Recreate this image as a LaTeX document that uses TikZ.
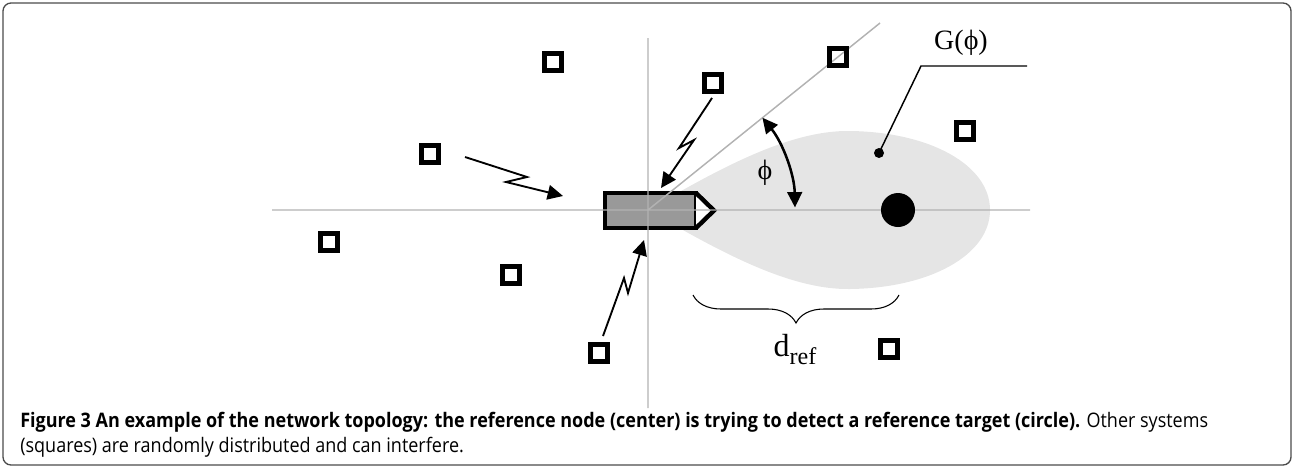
\documentclass[tikz,border=0pt]{standalone}
\usepackage{fontspec}
\setmainfont{Liberation Serif}
\newfontfamily\capfont[FakeStretch=0.9]{Open Sans}
\usetikzlibrary{arrows.meta,decorations.pathreplacing}

\tikzset{
  sys/.style={shape=rectangle,draw,line width=3.75pt,minimum size=13.2pt,inner sep=0pt},
  axis/.style={draw=black!30,line width=1.1pt},
  bolt/.style={draw,line width=1.4pt,line join=miter,-{Triangle[length=11.5pt,width=11pt]}},
  lbl/.style={font=\fontsize{21}{24}\selectfont,inner sep=0pt},
  capline/.style={anchor=base west,inner sep=0pt,font=\capfont\fontsize{15}{18}\selectfont},
}

\begin{document}
\begin{tikzpicture}[x=0.75pt,y=-0.75pt]
\useasboundingbox (0,0) rectangle (1294,468);
\draw[black!70,line width=1pt,rounded corners=6pt] (3,3) rectangle (1291,465);

% antenna pattern
\fill[black!10] (648,210) .. controls (720,168) and (790,130) .. (850,131)
  .. controls (930,132) and (990,165) .. (990,210)
  .. controls (990,255) and (930,288) .. (850,289)
  .. controls (790,290) and (720,252) .. (648,210) -- cycle;

% reference node
\node(refnode) at (650.5,210.5)[shape=rectangle,draw,fill=black!40,line width=3.3pt,outer sep=0pt,
  minimum width=68.25pt,minimum height=26.25pt]{};
\coordinate(nose) at (714,210.5);
\draw[line width=3.3pt,line join=miter,fill=white] (refnode.north east) -- (nose) -- (refnode.south east);

% axes
\coordinate(orig) at (648,210);
\coordinate(xleft) at (272,210);
\coordinate(xright) at (1030,210);
\coordinate(ytop) at (648,38);
\coordinate(ybot) at (648,408);
\coordinate(diag) at (880,23);
\path[axis] (xleft) -- (xright) (ytop) -- (ybot) (orig) -- (diag);

% target and pattern label
\node(target) at (898,210)[shape=circle,fill,minimum size=25.5pt,inner sep=0pt]{};
\node(gdot) at (879,153)[shape=circle,fill,minimum size=7.5pt,inner sep=0pt]{};
\coordinate(gbend) at (921,66);
\coordinate(gend) at (1027,66);
\draw[line width=1.1pt] (gdot.center) -- (gbend) -- (gend);
\node(glabel) at (961,43)[lbl]{G(ϕ)};

% other systems
\node(s1) at (553,62)[sys]{};
\node(s2) at (713,83)[sys]{};
\node(s3) at (838,57)[sys]{};
\node(s4) at (430,154)[sys]{};
\node(s5) at (965,131)[sys]{};
\node(s6) at (329,242)[sys]{};
\node(s7) at (511,275)[sys]{};
\node(s8) at (599,353)[sys]{};
\node(s9) at (889,349)[sys]{};

% interference
\coordinate(a0) at (465,157); \coordinate(a1) at (527,177); \coordinate(a2) at (506,182); \coordinate(a3) at (563,196);
\coordinate(b0) at (712,98);  \coordinate(b1) at (679,148); \coordinate(b2) at (694,140); \coordinate(b3) at (661,188);
\coordinate(c0) at (603,336); \coordinate(c1) at (624,278); \coordinate(c2) at (628,293); \coordinate(c3) at (644,240);
\draw[bolt] (a0) -- (a1) -- (a2) -- (a3);
\draw[bolt] (b0) -- (b1) -- (b2) -- (b3);
\draw[bolt] (c0) -- (c1) -- (c2) -- (c3);

% angle
\draw[line width=1.9pt,{Triangle[length=11.5pt,width=11pt]}-{Triangle[length=11.5pt,width=11pt]}]
  (orig) ++(-38.9:147) arc[start angle=-38.9,end angle=-1,radius=147];
\node(philabel) at (765,173)[lbl]{ϕ};

% distance
\coordinate(bl) at (693,295);
\coordinate(br) at (899,295);
\draw[line width=0.8pt,decorate,decoration={brace,amplitude=21pt,mirror}] (bl) -- (br);
\node(dlabel) at (795,350)[lbl,font=\fontsize{24}{26}\selectfont]{d\raisebox{-0.25em}{\fontsize{18}{18}\selectfont ref}};

% caption
\node(cap1) at (20,427)[capline]{\textbf{Figure 3 An example of the network topology: the reference node (center) is trying to detect a reference target (circle).} Other systems};
\node(cap2) at (20,452)[capline]{(squares) are randomly distributed and can interfere.};
\end{tikzpicture}
\end{document}
